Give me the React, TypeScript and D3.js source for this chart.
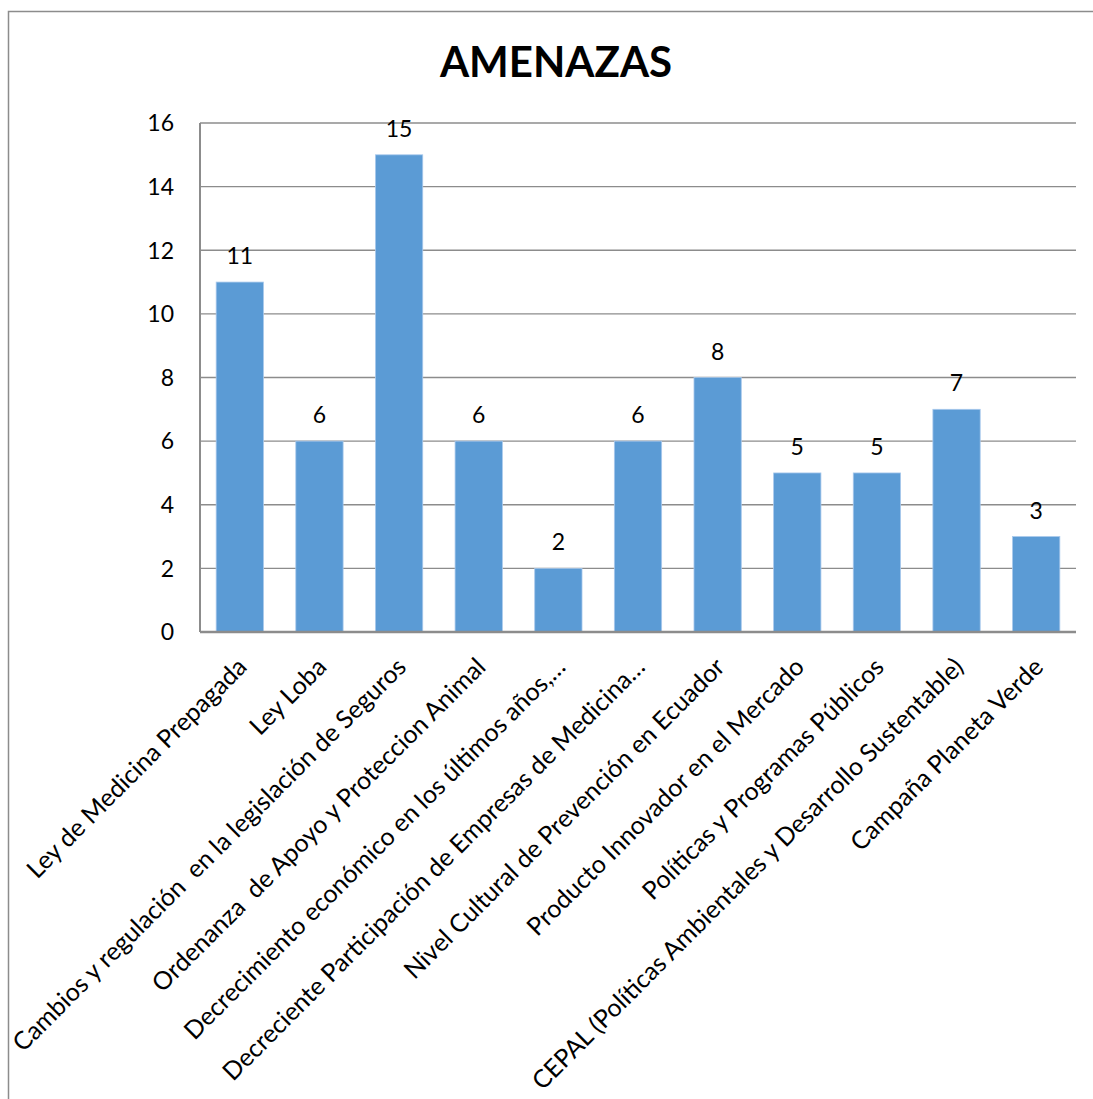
import React from "react";
import * as d3 from "d3";

const categories: string[] = [
  "Ley de Medicina Prepagada",
  "Ley Loba",
  "Cambios y regulación  en la legislación de Seguros",
  "Ordenanza  de Apoyo y Proteccion Animal",
  "Decrecimiento económico en los últimos años,…",
  "Decreciente Participación de Empresas de Medicina…",
  "Nivel Cultural de Prevención en Ecuador",
  "Producto Innovador en el Mercado",
  "Políticas y Programas Públicos",
  "CEPAL (Políticas Ambientales y Desarrollo Sustentable)",
  "Campaña Planeta Verde",
];
const values: number[] = [11, 6, 15, 6, 2, 6, 8, 5, 5, 7, 3];
const yTicks: number[] = [0, 2, 4, 6, 8, 10, 12, 14, 16];
const title = "AMENAZAS";

const W = 1093;
const H = 1099;
const plot = { left: 200, right: 1076, top: 123, bottom: 632 };
const FONT = "Lato, 'Open Sans', sans-serif";

export default function App() {
  const x = d3
    .scaleBand<string>()
    .domain(categories)
    .range([plot.left, plot.right])
    .paddingInner(0.406)
    .paddingOuter(0.203);
  const y = d3.scaleLinear().domain([0, 16]).range([plot.bottom, plot.top]);

  React.useEffect(() => {
    document.body.style.margin = "0";
  }, []);

  return (
    <svg width={W} height={H} style={{ display: "block", background: "#fff" }}>
      {/* chart frame */}
      <rect x={8.5} y={11.5} width={W + 20} height={H + 20} fill="none" stroke="#8c8c8c" strokeWidth={1.5} />

      <text x={556} y={77} textAnchor="middle" fontFamily={FONT} fontWeight="bold" fontSize={42} fill="#000">
        {title}
      </text>

      {/* gridlines */}
      {yTicks.map((t) => (
        <line key={t} x1={plot.left} x2={plot.right} y1={y(t)} y2={y(t)} stroke="#8c8c8c" strokeWidth={1.3} />
      ))}
      {yTicks.map((t) => (
        <text key={"l" + t} x={174} y={y(t)} dy="0.36em" textAnchor="end" fontFamily={FONT} fontSize={23} fill="#000">
          {t}
        </text>
      ))}

      {/* bars */}
      {categories.map((c, i) => (
        <rect
          key={c}
          x={x(c)}
          y={y(values[i])}
          width={x.bandwidth()}
          height={y(0) - y(values[i])}
          fill="#5B9BD5"
          stroke="#a9c9ec"
          strokeWidth={0.8}
        />
      ))}
      {categories.map((c, i) => (
        <text
          key={"v" + c}
          x={(x(c) as number) + x.bandwidth() / 2}
          y={y(values[i]) - 18}
          textAnchor="middle"
          fontFamily={FONT}
          fontSize={23}
          fill="#000"
        >
          {values[i]}
        </text>
      ))}

      {/* axes */}
      <line x1={plot.left} x2={plot.left} y1={plot.top} y2={plot.bottom} stroke="#8c8c8c" strokeWidth={2} />
      <line x1={plot.left} x2={plot.right} y1={plot.bottom} y2={plot.bottom} stroke="#8c8c8c" strokeWidth={2.5} />

      {/* category labels */}
      {categories.map((c) => {
        const cx = (x(c) as number) + x.bandwidth() / 2;
        return (
          <text
            key={"c" + c}
            transform={`translate(${cx - 4},${656}) rotate(-45)`}
            dy="0.71em"
            textAnchor="end"
            fontFamily={FONT}
            fontSize={25}
            fill="#000"
            style={{ whiteSpace: "pre" }}
          >
            {c}
          </text>
        );
      })}
    </svg>
  );
}
